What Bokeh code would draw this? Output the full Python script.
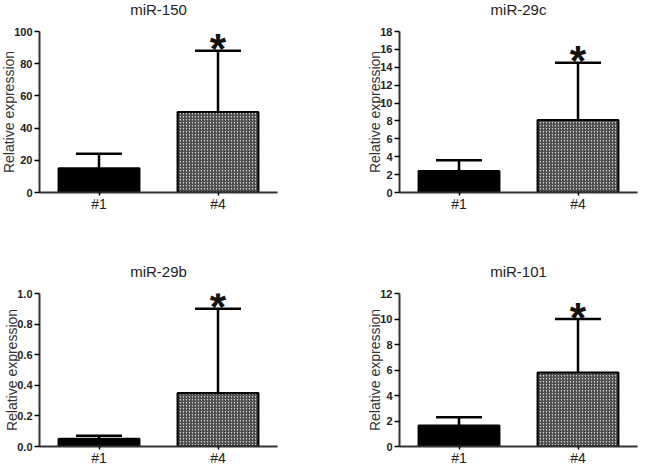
from bokeh.plotting import figure
from bokeh.models import ColumnDataSource, FactorRange, Range1d, Whisker, TeeHead, SingleIntervalTicker, NumeralTickFormatter
from bokeh.layouts import column, row
from bokeh.embed import file_html
from bokeh.resources import INLINE
from bokeh.core.properties import value

categories = ["#1", "#4"]
titles = ["miR-150", "miR-29c", "miR-29b", "miR-101"]

mir150_mean = [15, 50]
mir150_upper = [24, 88]
mir29c_mean = [2.4, 8.1]
mir29c_upper = [3.6, 14.5]
mir29b_mean = [0.05, 0.35]
mir29b_upper = [0.07, 0.90]
mir101_mean = [1.65, 5.8]
mir101_upper = [2.3, 10.0]

y_max = [100, 18, 1.0, 12]
y_step = [20, 2, 0.2, 2]
tick_format = ["0", "0", "0.0", "0"]
significance = ["*", "*", "*", "*"]

FONT = "Liberation Sans"


def make_panel(title, means, uppers, ymax, step, fmt, star, width, height, bl, br, bt, bb):
    p = figure(x_range=FactorRange(*categories, range_padding=0.0),
               y_range=Range1d(0, ymax),
               width=width, height=height, output_backend="svg",
               toolbar_location=None, title=title + "\n",
               min_border_left=bl, min_border_right=br,
               min_border_top=bt, min_border_bottom=bb)
    p.title.align = "center"
    p.title.text_font = FONT
    p.title.text_font_size = "15px"
    p.title.text_font_style = "normal"
    p.title.text_color = "#222222"
    p.title.text_line_height = 0.5
    p.title.standoff = 10
    p.outline_line_color = None
    p.xgrid.visible = False
    p.ygrid.visible = False
    p.background_fill_color = "white"

    src = ColumnDataSource(dict(cat=categories, mean=means, upper=uppers,
                                fill=["black", "#d0d0d0"],
                                hatch=[" ", "right_diagonal_line"]))
    p.vbar(x="cat", top="mean", bottom=0, width=0.68, source=src,
           fill_color="fill", line_color="black", line_width=2,
           hatch_pattern="hatch", hatch_color="#333333", hatch_scale=3,
           hatch_weight=1.1)
    w = Whisker(base="cat", upper="upper", lower="mean", source=src,
                line_color="black", line_width=2.5, lower_head=None,
                upper_head=TeeHead(size=46, line_width=2.5, line_color="black"),
                level="glyph")
    p.add_layout(w)

    p.text(x=[categories[1]], y=[uppers[1]], text=[star],
           text_font=value(FONT), text_font_style="bold",
           text_font_size="42px", text_align="center",
           text_baseline="alphabetic", y_offset=-2, text_color="#111111")

    ya = p.yaxis[0]
    ya.ticker = SingleIntervalTicker(interval=step, num_minor_ticks=0)
    ya.formatter = NumeralTickFormatter(format=fmt)
    ya.axis_label = "Relative expression"
    ya.axis_label_text_font = FONT
    ya.axis_label_text_font_size = "14px"
    ya.axis_label_text_font_style = "normal"
    ya.axis_label_text_color = "#333333"
    ya.axis_label_standoff = -6
    ya.major_label_text_font = FONT
    ya.major_label_text_font_size = "11px"
    ya.major_label_text_font_style = "bold"
    ya.major_label_text_color = "#222222"
    ya.major_label_standoff = 2
    ya.major_tick_out = 5
    ya.major_tick_in = 0
    ya.minor_tick_out = 0
    ya.axis_line_width = 2
    ya.axis_line_color = "#333333"
    ya.major_tick_line_width = 1.5

    xa = p.xaxis[0]
    xa.major_label_text_font = FONT
    xa.major_label_text_font_size = "14px"
    xa.major_label_text_color = "#222222"
    xa.major_label_standoff = 0
    xa.major_tick_out = 3
    xa.major_tick_in = 0
    xa.axis_line_width = 2
    xa.axis_line_color = "#333333"
    xa.major_tick_line_width = 1.5
    return p


p1 = make_panel(titles[0], mir150_mean, mir150_upper, y_max[0], y_step[0], tick_format[0], significance[0], 360, 262, 45, 77, 41, 60)
p2 = make_panel(titles[1], mir29c_mean, mir29c_upper, y_max[1], y_step[1], tick_format[1], significance[1], 285, 262, 45, 2, 41, 60)
p3 = make_panel(titles[2], mir29b_mean, mir29b_upper, y_max[2], y_step[2], tick_format[2], significance[2], 360, 216, 45, 77, 41, 19)
p4 = make_panel(titles[3], mir101_mean, mir101_upper, y_max[3], y_step[3], tick_format[3], significance[3], 285, 216, 45, 2, 41, 19)

layout = column(row(p1, p2), row(p3, p4), margin=(-10, 0, 0, -6))

open("out.html", "w").write(file_html(layout, INLINE))
